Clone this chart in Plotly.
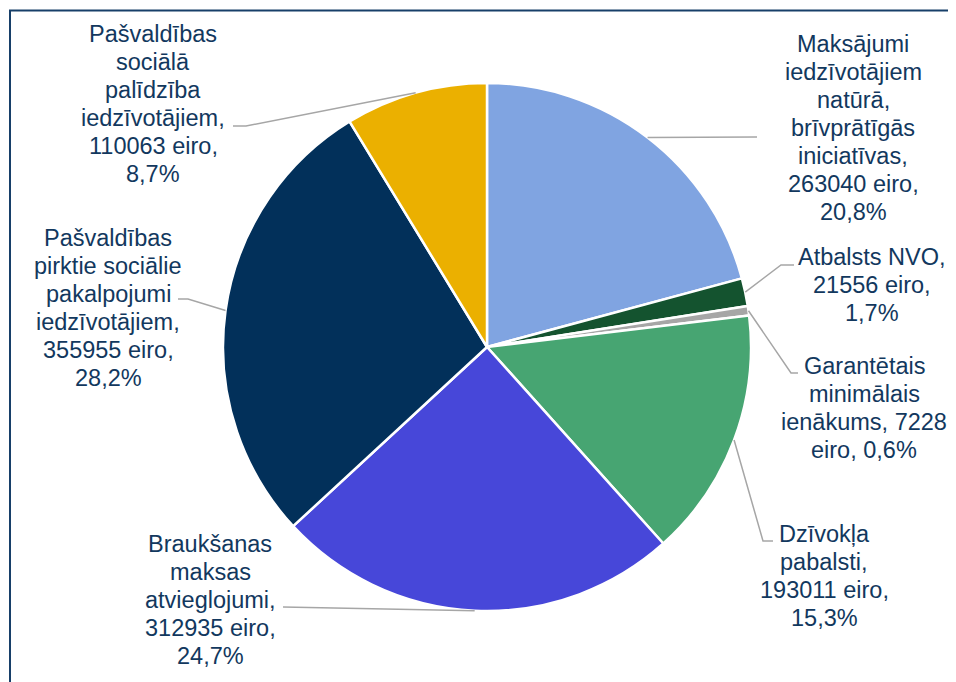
import math
import plotly.graph_objects as go

# ---------------- data ----------------
categories = [
    "Maksājumi iedzīvotājiem natūrā, brīvprātīgās iniciatīvas",
    "Atbalsts NVO",
    "Garantētais minimālais ienākums",
    "Dzīvokļa pabalsti",
    "Braukšanas maksas atvieglojumi",
    "Pašvaldības pirktie sociālie pakalpojumi iedzīvotājiem",
    "Pašvaldības sociālā palīdzība iedzīvotājiem",
]
values = [263040, 21556, 7228, 193011, 312935, 355955, 110063]
percents = ["20,8%", "1,7%", "0,6%", "15,3%", "24,7%", "28,2%", "8,7%"]
name_lines = [
    ["Maksājumi", "iedzīvotājiem", "natūrā,", "brīvprātīgās", "iniciatīvas,"],
    ["Atbalsts NVO,"],
    ["Garantētais", "minimālais", "ienākums,"],
    ["Dzīvokļa", "pabalsti,"],
    ["Braukšanas", "maksas", "atvieglojumi,"],
    ["Pašvaldības", "pirktie sociālie", "pakalpojumi", "iedzīvotājiem,"],
    ["Pašvaldības", "sociālā", "palīdzība", "iedzīvotājiem,"],
]
colors = ["#80A4E1", "#14532F", "#A6A6A6", "#47A572", "#4747D9", "#02305A", "#EBB000"]

# ---------------- layout (screen pixels) ----------------
OFF = 8                      # page body margin
W, H = 948, 674              # figure size
CX, CY, R = 487, 347, 264
FONT = 23.5
LINE = 28
TEXT_COLOR = "#12385E"
LEADER = "#A6A6A6"
label_pos = [(853, 128), (872, 285), (864, 408), (824, 576), (210, 600), (108, 308), (153, 104)]
joined = [False, False, True, False, False, False, False]
elbows = [None, (781, 265), (791, 373), (763, 541), None, (188, 299), (246, 126)]
ends = [(757, 137), (794, 265), (798, 373), (773, 541), (283, 607), (178, 299), (233, 126)]


def px(x):
    return (x - OFF) / W


def py(y):
    return 1 - (y - OFF) / H


fig = go.Figure(
    go.Pie(
        labels=categories,
        values=values,
        sort=False,
        direction="clockwise",
        rotation=0,
        marker=dict(colors=colors, line=dict(color="white", width=2.5)),
        textinfo="none",
        hoverinfo="label+value+percent",
        domain=dict(x=[px(CX - R), px(CX + R)], y=[py(CY + R), py(CY - R)]),
        showlegend=False,
    )
)

total = sum(values)
cum = 0
annotations = []
shapes = []
for i, v in enumerate(values):
    mid = (cum + v / 2) / total * 2 * math.pi
    cum += v
    ax_ = CX + R * math.sin(mid)
    ay_ = CY - R * math.cos(mid)
    pts = [(ax_, ay_)]
    if elbows[i]:
        pts.append(elbows[i])
    pts.append(ends[i])
    path = "M " + " L ".join(f"{px(x):.5f},{py(y):.5f}" for x, y in pts)
    shapes.append(dict(type="path", xref="paper", yref="paper", path=path,
                       line=dict(color=LEADER, width=1.5)))

    lines = list(name_lines[i])
    if joined[i]:
        lines[-1] = lines[-1] + " " + str(v)
        lines.append("eiro, " + percents[i])
    else:
        lines.append(f"{v} eiro,")
        lines.append(percents[i])
    cx, cy = label_pos[i]
    n = len(lines)
    for k, t in enumerate(lines):
        yy = cy + (k - (n - 1) / 2) * LINE
        annotations.append(dict(
            x=px(cx), y=py(yy), xref="paper", yref="paper", text=t,
            showarrow=False, xanchor="center", yanchor="middle",
            font=dict(family="Liberation Sans, Arial, sans-serif", size=FONT, color=TEXT_COLOR),
        ))

# outer frame (top and left edges visible)
shapes.append(dict(type="rect", xref="paper", yref="paper",
                   x0=px(10), x1=px(990), y0=py(720), y1=py(10.5),
                   line=dict(color="#173F69", width=2), fillcolor="rgba(0,0,0,0)"))

fig.update_layout(
    width=W, height=H,
    margin=dict(l=0, r=0, t=0, b=0),
    paper_bgcolor="white",
    plot_bgcolor="white",
    annotations=annotations,
    shapes=shapes,
)

fig.write_html("out.html")
